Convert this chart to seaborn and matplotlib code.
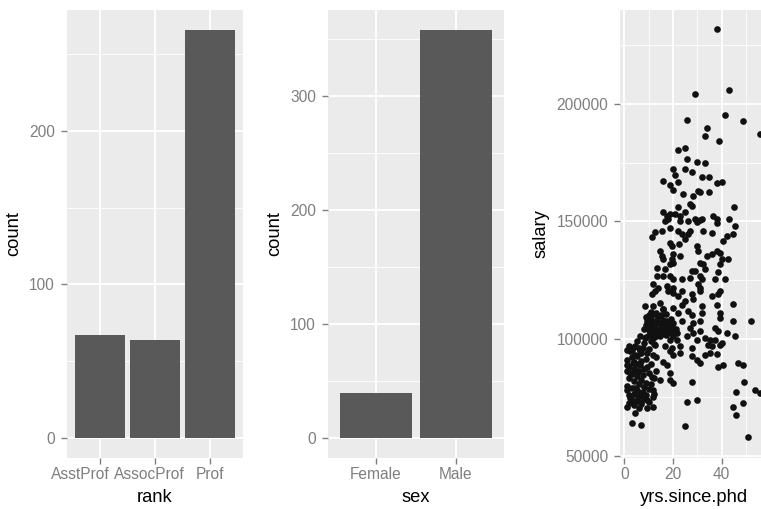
import matplotlib
matplotlib.use("Agg")
import matplotlib.pyplot as plt
import matplotlib.transforms as mtransforms
import seaborn as sns
import pandas as pd
from matplotlib.ticker import FixedLocator, FuncFormatter

# ---------------- data ----------------
rank_levels = ["AsstProf", "AssocProf", "Prof"]
rank_counts = [67, 64, 266]

sex_levels = ["Female", "Male"]
sex_counts = [39, 358]

yrs_since_phd = [
    37.9, 29.0, 43.0, 25.8, 41.5, 48.9, 55.8, 34.0, 33.0, 38.9, 21.9, 24.9, 25.8, 30.0, 33.0,
    20.1, 20.8, 24.9, 27.7, 16.0, 21.9, 31.8, 34.9, 37.9, 40.0, 18.7, 19.8, 24.0, 28.1, 30.4,
    31.1, 34.9, 27.0, 27.7, 21.9, 24.9, 16.0, 17.4, 18.7, 20.8, 22.8, 16.7, 18.0, 22.8, 26.3,
    29.0, 31.1, 30.0, 31.8, 36.5, 37.9, 37.9, 45.1, 43.0, 45.5, 18.7,
    11.2, 12.6, 15.3, 22.1, 23.5, 26.3, 27.0, 32.4, 35.9, 42.1, 44.8, 40.7, 18.7, 19.4, 22.6,
    24.9, 29.7, 30.4, 14.6, 15.3, 16.0, 20.1, 19.4, 19.8, 22.8, 33.8, 35.9, 37.9, 39.3, 42.7,
    40.0, 31.1, 32.4, 39.3, 13.3, 16.7, 18.7, 27.7, 29.0, 33.1, 38.6, 13.3, 16.0, 18.7, 20.1,
    23.5, 27.0, 31.1, 31.8, 37.2, 41.4, 11.9, 13.9, 17.4, 20.1, 30.4, 31.1,
    11.2, 12.6, 18.0, 20.1, 22.1, 23.5, 27.7, 31.1, 35.9, 38.6, 39.3, 8.4, 11.9, 14.6, 16.0,
    20.1, 23.5, 24.9, 28.3, 31.8, 37.9, 44.8, 22.1, 26.3, 27.7, 31.8, 39.3, 39.3, 9.1, 11.2,
    13.3, 15.3, 17.4, 19.4, 23.5, 28.3, 31.1, 44.8, 52.1, 10.2, 11.9, 16.0, 19.4, 21.5, 27.0,
    28.3, 31.1, 37.2, 38.6, 42.1, 45.5, 6.4, 8.4, 11.9, 14.6, 18.7, 21.5, 25.6, 29.7, 33.1,
    35.2, 37.2, 40.0, 4.3, 7.7, 12.6, 16.7, 19.4, 22.8, 27.7, 34.5, 35.9, 39.3,
    2.3, 4.3, 6.4, 9.1, 11.9, 18.7, 20.1, 22.8, 27.7, 29.7, 31.1, 33.1, 35.2, 37.9, 0.9,
    3.6, 6.4, 9.1, 16.0, 17.4, 38.6, 40.7, 46.8, 48.9, 2.3, 5.1, 7.7, 11.2, 14.6, 18.7,
    18.7, 19.8, 27.9, 49.2, 0.9, 4.3, 7.7, 11.9, 45.9, 53.7, 55.8, 2.3, 5.7, 9.1, 11.9,
    0.9, 3.6, 6.9, 9.1, 11.9, 4.3, 3.0, 6.8, 25.6, 29.7, 24.9, 44.8, 48.9, 45.9, 50.9,
    8, 9, 9, 10, 10, 10, 11, 11, 12, 12, 13, 13, 13, 14, 14, 15, 15, 15, 16, 16, 17, 17, 17,
    18, 18, 19, 19, 20, 20, 21, 12, 9, 14, 11, 16,
    1, 1, 1, 2, 2, 2, 2, 3, 3, 3, 3, 3, 4, 4, 4, 4, 4, 5, 5, 5, 5, 5, 5, 6, 6, 6, 6, 7, 7,
    7, 7, 7, 8, 8, 8, 8, 9, 9, 9, 10, 10, 10, 10, 11, 11, 12, 12, 12, 13, 13, 2, 6, 1, 4, 11,
]

salary = [
    231800, 204300, 205800, 193300, 195100, 192600, 187300, 189700, 186400, 184200, 180300, 181400, 176700, 175300, 174900,
    172200, 169700, 172200, 171000, 167300, 166900, 168800, 169000, 166300, 166900, 165500, 163400, 161600, 160900, 163000,
    162300, 162300, 157300, 156600, 155900, 154000, 153800, 152300, 153000, 153000, 152300, 150200, 150900, 150200, 150200,
    150900, 150600, 149500, 150900, 152300, 150900, 149100, 155900, 150900, 147800, 147300,
    143100, 145500, 145900, 145900, 144500, 144500, 145900, 145900, 144900, 143700, 144500, 141600, 140900, 139500, 140200,
    142300, 139500, 137300, 137300, 135200, 133800, 135900, 133800, 132400, 135200, 135200, 135900, 137300, 136600, 133800,
    133800, 132400, 131600, 131600, 130200, 129500, 131600, 128800, 128800, 129500, 128300, 126600, 126600, 126600, 125200,
    125200, 125900, 126600, 125200, 125200, 125500, 123100, 121700, 122400, 121700, 123100, 121700,
    118800, 120200, 120200, 119500, 118100, 120200, 118800, 120200, 118100, 118800, 120200, 113800, 113800, 115200, 112400,
    113100, 114500, 115900, 116700, 113800, 114500, 114900, 111000, 111600, 110200, 111000, 111000, 108800, 107400, 106700,
    108100, 106700, 107400, 106000, 107400, 106700, 107400, 107400, 107400, 103800, 103100, 103800, 103100, 102400, 104500,
    102400, 103100, 104500, 103100, 102400, 100900, 100900, 100300, 100300, 100900, 99500, 99500, 100900, 99500, 100300,
    99500, 99500, 98100, 96700, 96000, 97400, 96700, 96000, 96700, 96000, 97400, 96700, 97400,
    94500, 93100, 94500, 93800, 93100, 94500, 93100, 93800, 92400, 91000, 89600, 93100, 93800, 93500, 88800,
    89600, 88800, 88100, 90200, 88800, 88100, 88800, 89800, 88800, 85300, 86000, 84500, 83800, 82400, 85300,
    82400, 81000, 81700, 81700, 78100, 78800, 77400, 78100, 77100, 78100, 77000, 74600, 75300, 73800, 75300,
    71000, 72700, 73100, 70300, 71000, 68400, 64100, 63100, 73100, 73800, 62800, 71000, 72400, 67400, 57900,
    104000, 106000, 109000, 101500, 105500, 110000, 102500, 108500, 105000, 110500, 101000, 104000, 111000, 106500, 109500,
    102000, 104500, 110000, 106000, 108000, 101500, 104000, 110500, 106000, 102500, 108500, 104500, 101000, 106500, 104000,
    100500, 100500, 103000, 111500, 112500,
    80000, 86000, 91000, 76000, 83000, 88000, 97000, 74000, 79000, 85000, 92000, 95000, 71500, 76500, 82000, 87000, 90000,
    73500, 78000, 84000, 89000, 92500, 99000, 75500, 80500, 86000, 96000, 72000, 77000, 82500, 90500, 94000, 74500, 79500,
    87000, 98000, 76000, 81000, 91500, 73000, 78500, 85500, 95500, 80500, 89000, 76500, 83000, 97500, 86000, 92000, 72500,
    70500, 95000, 96500, 99000,
]

# ---------------- style ----------------
sns.set_theme(style="darkgrid")
plt.rcParams["font.family"] = ["Liberation Sans", "DejaVu Sans"]

PANEL = "#EBEBEB"
GREY = "#7F7F7F"
BAR = "#595959"

fig = plt.figure(figsize=(7.61, 5.09), dpi=100)
bottom, height = 51 / 509, 448.5 / 509
ax1 = fig.add_axes([67 / 761, bottom, 176 / 761, height])
ax2 = fig.add_axes([328 / 761, bottom, 176 / 761, height])
ax3 = fig.add_axes([620.2 / 761, bottom, 147.1 / 761, height])


def style(ax):
    ax.set_facecolor(PANEL)
    for s in ax.spines.values():
        s.set_visible(False)
    ax.set_axisbelow(True)
    ax.grid(which="major", color="white", linewidth=1.3)
    ax.grid(which="minor", color="white", linewidth=0.6)
    ax.tick_params(which="major", length=4.1, width=1.0, color=GREY,
                   labelcolor=GREY, labelsize=11.2)
    ax.tick_params(which="minor", length=0)
    ax.tick_params(axis="x", pad=2.5, bottom=True)
    ax.tick_params(axis="y", pad=4.5, left=True)
    ax.xaxis.label.set_size(13.2)
    ax.yaxis.label.set_size(13.2)
    ax.xaxis.label.set_color("black")
    ax.yaxis.label.set_color("black")
    ax.xaxis.labelpad = 5
    ax.yaxis.labelpad = 5


# ---- panel 1: rank ----
df_rank = pd.DataFrame({"rank": rank_levels, "count": rank_counts})
sns.barplot(data=df_rank, x="rank", y="count", order=rank_levels, color=BAR,
            saturation=1, width=0.9, linewidth=0, ax=ax1)
style(ax1)
ax1.set_xlim(-0.6, 2.6)
ax1.set_ylim(-0.05 * max(rank_counts), 1.05 * max(rank_counts))
ax1.yaxis.set_major_locator(FixedLocator([0, 100, 200]))
ax1.yaxis.set_minor_locator(FixedLocator([50, 150, 250]))
ax1.set_xlabel("rank")
ax1.set_ylabel("count")
# the reference packs the crowded rank labels side by side (no overlap)
label_shift_px = [-20, -6, 0]
for lab, dx in zip(ax1.get_xticklabels(), label_shift_px):
    lab.set_transform(lab.get_transform() +
                      mtransforms.ScaledTranslation(dx / 100, 0, fig.dpi_scale_trans))

# ---- panel 2: sex ----
df_sex = pd.DataFrame({"sex": sex_levels, "count": sex_counts})
sns.barplot(data=df_sex, x="sex", y="count", order=sex_levels, color=BAR,
            saturation=1, width=0.9, linewidth=0, ax=ax2)
style(ax2)
ax2.set_xlim(-0.6, 1.6)
ax2.set_ylim(-0.05 * max(sex_counts), 1.05 * max(sex_counts))
ax2.yaxis.set_major_locator(FixedLocator([0, 100, 200, 300]))
ax2.yaxis.set_minor_locator(FixedLocator([50, 150, 250, 350]))
ax2.set_xlabel("sex")
ax2.set_ylabel("count")

# ---- panel 3: scatter ----
df_sc = pd.DataFrame({"yrs.since.phd": yrs_since_phd, "salary": salary})
sns.scatterplot(data=df_sc, x="yrs.since.phd", y="salary", color="#111111",
                s=23, linewidth=0, alpha=1, ax=ax3)
style(ax3)
x_lo, x_hi = 1, 56
y_lo, y_hi = 57800, 231545
ax3.set_xlim(x_lo - 0.05 * (x_hi - x_lo), x_hi + 0.05 * (x_hi - x_lo))
ax3.set_ylim(y_lo - 0.05 * (y_hi - y_lo), y_hi + 0.05 * (y_hi - y_lo))
ax3.xaxis.set_major_locator(FixedLocator([0, 20, 40]))
ax3.xaxis.set_minor_locator(FixedLocator([10, 30, 50]))
ax3.yaxis.set_major_locator(FixedLocator([50000, 100000, 150000, 200000]))
ax3.yaxis.set_minor_locator(FixedLocator([75000, 125000, 175000, 225000]))
ax3.yaxis.set_major_formatter(FuncFormatter(lambda v, p: f"{int(v)}"))
ax3.set_xlabel("yrs.since.phd")
ax3.set_ylabel("salary")

fig.savefig("out.png", dpi=100)
